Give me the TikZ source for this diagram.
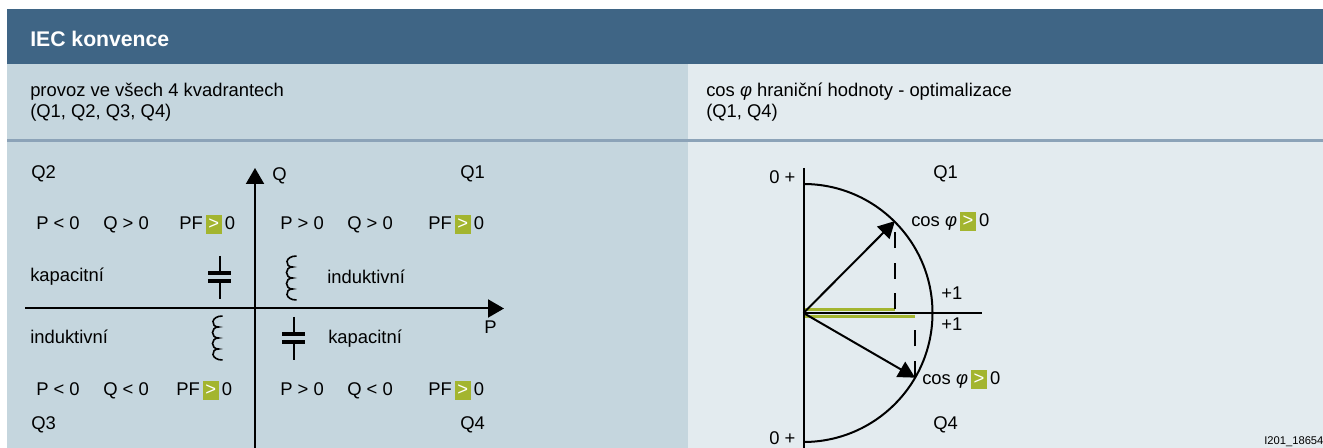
\documentclass[tikz,border=0pt]{standalone}
\usepackage{fontspec}
\setmainfont{Liberation Sans}
\usetikzlibrary{arrows.meta}
\definecolor{HeadBlue}{HTML}{3F6585}
\definecolor{PaleBlue}{HTML}{C5D6DE}
\definecolor{PalerBlue}{HTML}{E3EBEF}
\definecolor{RuleBlue}{HTML}{8CA3B8}
\definecolor{LimeGreen}{HTML}{A3B52F}
\newcommand{\gtbox}{\setlength{\fboxsep}{0pt}\colorbox{LimeGreen}{\makebox[12pt]{\textcolor{white}{\rule[-3pt]{0pt}{14.2pt}>}}}}
\newcommand{\phisym}{\textit{φ}}
\begin{document}
\begin{tikzpicture}[
    x=0.75pt, y=-0.75pt,
    lbl/.style={anchor=base west, inner sep=0pt, font=\fontsize{13.8}{16}\selectfont},
    sublbl/.style={anchor=west, inner sep=0pt, align=left, font=\fontsize{13.8}{15.6}\selectfont},
    axis/.style={line width=1.5pt, -{Triangle[length=12pt,width=13.5pt]}},
    line/.style={line width=1.5pt},
    phasor/.style={line width=1.5pt, -{Triangle[length=12.5pt,width=13pt]}, shorten >=-1pt},
    dropline/.style={line width=1.5pt, dash pattern=on 12pt off 11pt},
    cosbar/.style={line width=2.6pt, draw=LimeGreen},
    plate/.style={line width=3pt},
    capacitor/.pic={
      \draw[line] (0,-21.5) -- (0,21.5);
      \fill[PaleBlue] (-4,-3) rectangle (4,3);
      \draw[plate] (-11.5,-4) -- (11.5,-4);
      \draw[plate] (-11.5,4) -- (11.5,4);
    },
    coil/.pic={
      \draw[line width=1.2pt] (4,-22) .. controls (-8,-22) and (-8,-11) .. (0,-11)
        .. controls (-8,-11) and (-8,0) .. (0,0)
        .. controls (-8,0) and (-8,11) .. (0,11)
        .. controls (-8,11) and (-8,22) .. (4,22);
    }
  ]
    \useasboundingbox (0,0) rectangle (1323,448);
    % panels
    \fill[HeadBlue] (7,9) rectangle (1323,64);
    \fill[PaleBlue] (7,64) rectangle (688,448);
    \fill[PalerBlue] (688,64) rectangle (1323,448);
    \draw[RuleBlue, line width=1.6pt] (7,140.5) -- (1323,140.5);
    \node[lbl, text=white, font=\fontsize{15.9}{18}\selectfont\bfseries] (title) at (30,46.5) {IEC konvence};
    \node[sublbl] (subleft) at (30,102.5) {provoz ve všech 4 kvadrantech\\(Q1, Q2, Q3, Q4)};
    \node[sublbl] (subright) at (706,102.5) {cos \phisym{} hraniční hodnoty - optimalizace\\(Q1, Q4)};

    % left panel: axes
    \coordinate (pstart) at (25,308.5);
    \coordinate (pend) at (504,308.5);
    \coordinate (qstart) at (255,448);
    \coordinate (qend) at (255,168);
    \draw[axis] (pstart) -- (pend);
    \draw[axis] (qstart) -- (qend);
    \pic at (219.5,277.5) {capacitor};
    \pic at (293.5,338.5) {capacitor};
    \pic at (292.5,278) {coil};
    \pic at (218.5,338) {coil};

    % left panel: labels
    \node[lbl] (q2) at (31,179) {Q2};
    \node[lbl] (q1) at (460,179) {Q1};
    \node[lbl] (q3) at (31,430) {Q3};
    \node[lbl] (q4) at (460,430) {Q4};
    \node[lbl] (qlabel) at (272,181) {Q};
    \node[lbl] (plabel) at (484,334) {P};
    \node[lbl] (ptl) at (36,230) {P < 0};
    \node[lbl] (qtl) at (103,230) {Q > 0};
    \node[lbl] (pftl) at (179,230) {PF\,\gtbox\,0};
    \node[lbl] (ptr) at (280,230) {P > 0};
    \node[lbl] (qtr) at (347,230) {Q > 0};
    \node[lbl] (pftr) at (428,230) {PF\,\gtbox\,0};
    \node[lbl] (pbl) at (36,396) {P < 0};
    \node[lbl] (qbl) at (103,396) {Q < 0};
    \node[lbl] (pfbl) at (176,396) {PF\,\gtbox\,0};
    \node[lbl] (pbr) at (280,396) {P > 0};
    \node[lbl] (qbr) at (347,396) {Q < 0};
    \node[lbl] (pfbr) at (428,396) {PF\,\gtbox\,0};
    \node[lbl] (kaptl) at (30,282) {kapacitní};
    \node[lbl] (indtr) at (327,284) {induktivní};
    \node[lbl] (indbl) at (30,344) {induktivní};
    \node[lbl] (kapbr) at (328,344) {kapacitní};

    % right panel: circle and phasors
    \coordinate (origin) at (803.5,313);
    \coordinate (circbot) at (803.5,442);
    \coordinate (axtop) at (803.5,168);
    \coordinate (axbot) at (803.5,448);
    \coordinate (axright) at (982,313);
    \coordinate (tipup) at (894,222);
    \coordinate (tipdown) at (914,377);
    \coordinate (footup) at (894.5,309.5);
    \coordinate (footdown) at (914.5,316.5);
    \draw[cosbar] (origin |- footup) -- (footup);
    \draw[cosbar] (origin |- footdown) -- (footdown);
    \draw[line] (axtop) -- (axbot);
    \draw[line] (origin) -- (axright);
    \draw[line] (circbot) arc[start angle=-90, end angle=90, radius=129*0.75pt];
    \draw[phasor] (origin) -- (tipup);
    \draw[phasor] (origin) -- (tipdown);
    \draw[dropline] (footup) -- (tipup -| footup);
    \draw[dropline] (tipdown -| footdown) -- (footdown);

    % right panel: labels
    \node[lbl] (zerotop) at (769,184) {0 +};
    \node[lbl] (zerobot) at (769,445) {0 +};
    \node[lbl] (rq1) at (933,179) {Q1};
    \node[lbl] (rq4) at (933,430) {Q4};
    \node[lbl] (cosup) at (911,227) {cos \phisym\,\gtbox\,0};
    \node[lbl] (cosdown) at (922,385) {cos \phisym\,\gtbox\,0};
    \node[lbl] (oneup) at (941,300) {+1};
    \node[lbl] (onedown) at (941,331) {+1};
    \node[lbl, font=\fontsize{8.4}{10}\selectfont] (figid) at (1264,445) {I201\_18654};
  \end{tikzpicture}
\end{document}
